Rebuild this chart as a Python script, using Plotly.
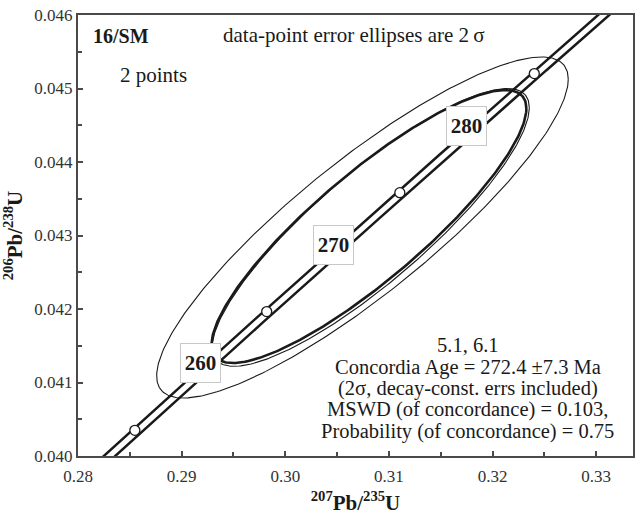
import numpy as np
import plotly.graph_objects as go

# ---- data ----
# U decay constants (1/yr)
lam238 = 1.55125e-10
lam235 = 9.8485e-10
# concordia band offsets in 207Pb/235U (decay-constant error envelope)
band_dx = [-0.0003, 0.0008]
curve_ages = [245.0, 250.0, 255.0, 260.0, 265.0, 270.0, 275.0, 280.0, 285.0, 290.0, 295.0]
marker_ages = [255, 265, 275, 285]
label_ages = [260, 270, 280]

# data points: ratio, 2-sigma absolute error, error correlation
pt_names = ["5.1", "6.1"]
pt_x = [0.30745, 0.30825]
pt_x_err = [0.01986, 0.01530]
pt_y = [0.043109, 0.043110]
pt_y_err = [0.00232, 0.00189]
pt_rho = [0.87, 0.862]

# concordia-age ellipse
ca_x, ca_x_err = 0.30808, 0.01519
ca_y, ca_y_err = 0.043122, 0.001857
ca_rho = 0.865

x_ticks = [0.28, 0.29, 0.30, 0.31, 0.32, 0.33]
y_ticks = [0.040, 0.041, 0.042, 0.043, 0.044, 0.045, 0.046]

stats_lines = ["5.1, 6.1",
               "Concordia Age = 272.4 \u00b17.3 Ma",
               "(2\u03c3, decay-const. errs included)",
               "MSWD (of concordance) = 0.103,",
               "Probability (of concordance) = 0.75"]

SERIF = "Liberation Serif"
INK = "#1a1a1a"

W, H = 637, 518
L, R, T, B = 78, 2, 15, 62
pw, ph = W - L - R, H - T - B


def px(xp):
    return (xp - L) / pw


def py(yp):
    return (H - B - yp) / ph


def conc(t_ma):
    t = np.asarray(t_ma, dtype=float) * 1e6
    return np.exp(lam235 * t) - 1.0, np.exp(lam238 * t) - 1.0


def ellipse(cx, sx, cy, sy, rho, n=361):
    th = np.linspace(0, 2 * np.pi, n)
    x = cx + sx * np.cos(th)
    y = cy + sy * (rho * np.cos(th) + np.sqrt(1 - rho ** 2) * np.sin(th))
    return x, y


fig = go.Figure()

# concordia band
tt = np.linspace(curve_ages[0], curve_ages[-1], 400)
cx, cy = conc(tt)
for dx in band_dx:
    fig.add_trace(go.Scatter(x=cx + dx, y=cy, mode="lines",
                             line=dict(color=INK, width=2.5),
                             hoverinfo="skip", showlegend=False))

# data-point ellipses (thin)
for i in range(len(pt_names)):
    ex, ey = ellipse(pt_x[i], pt_x_err[i], pt_y[i], pt_y_err[i], pt_rho[i])
    fig.add_trace(go.Scatter(x=ex, y=ey, mode="lines",
                             line=dict(color=INK, width=1.1),
                             hoverinfo="skip", showlegend=False))

# concordia-age ellipse (bold)
ex, ey = ellipse(ca_x, ca_x_err, ca_y, ca_y_err, ca_rho)
fig.add_trace(go.Scatter(x=ex, y=ey, mode="lines",
                         line=dict(color=INK, width=2.6),
                         hoverinfo="skip", showlegend=False))

# age markers
mx, my = conc(marker_ages)
fig.add_trace(go.Scatter(x=mx, y=my, mode="markers",
                         marker=dict(size=10, color="white",
                                     line=dict(color=INK, width=1.3)),
                         hoverinfo="skip", showlegend=False))

# age labels in boxes
lx, ly = conc(label_ages)
for a, xx, yy in zip(label_ages, lx, ly):
    fig.add_annotation(x=xx, y=yy, xref="x", yref="y", text="<b>%d</b>" % a,
                       showarrow=False, yshift=7.5,
                       font=dict(family=SERIF, size=21, color=INK),
                       bgcolor="white", bordercolor="#c8c8c8", borderwidth=1,
                       borderpad=0, width=39, height=38)

# texts
fig.add_annotation(x=px(91), y=py(36), xref="paper", yref="paper", text="<b>16/SM</b>",
                   showarrow=False, xanchor="left", yanchor="middle",
                   font=dict(family=SERIF, size=20, color=INK))
fig.add_annotation(x=px(222), y=py(35), xref="paper", yref="paper",
                   text="data-point error ellipses are 2\u2009\u03c3",
                   showarrow=False, xanchor="left", yanchor="middle",
                   font=dict(family=SERIF, size=21, color=INK))
fig.add_annotation(x=px(118), y=py(75), xref="paper", yref="paper",
                   text="2 points",
                   showarrow=False, xanchor="left", yanchor="middle",
                   font=dict(family=SERIF, size=21, color=INK))

line_y = [345, 367, 388.5, 409.5, 431]
for s, yy in zip(stats_lines, line_y):
    fig.add_annotation(x=px(469), y=py(yy), xref="paper", yref="paper",
                       text=s, showarrow=False, xanchor="center", yanchor="middle",
                       borderpad=0,
                       font=dict(family=SERIF, size=20.5, color=INK))

axis_common = dict(showline=True, mirror=True, linecolor="#4a4a4a", linewidth=2,
                   ticks="inside", ticklen=5, tickwidth=1.5, tickcolor="#4a4a4a",
                   showgrid=False, zeroline=False,
                   tickfont=dict(family=SERIF, size=17, color="#333333"))

fig.update_layout(
    width=W, height=H,
    margin=dict(l=L, r=R, t=T, b=B),
    plot_bgcolor="white", paper_bgcolor="white",
    xaxis=dict(range=[0.28, 0.28 + 0.01 * pw / 104.0],
               tickvals=x_ticks, ticktext=["%.2f" % v for v in x_ticks],
               ticklabelstandoff=4,
               minor=dict(dtick=0.005, ticks="inside", ticklen=4, tickcolor="#4a4a4a", tickwidth=1.5),
               title=dict(text="<b><sup>207</sup>Pb/<sup>235</sup>U</b>",
                          font=dict(family=SERIF, size=21, color=INK), standoff=10),
               **axis_common),
    yaxis=dict(range=[0.040, 0.046],
               tickvals=y_ticks, ticktext=["%.3f" % v for v in y_ticks],
               minor=dict(dtick=0.0005, ticks="inside", ticklen=4, tickcolor="#4a4a4a", tickwidth=1.5),
               title=dict(text="<b><sup>206</sup>Pb/<sup>238</sup>U</b>",
                          font=dict(family=SERIF, size=21, color=INK), standoff=6),
               **axis_common),
)

fig.write_html("out.html")
